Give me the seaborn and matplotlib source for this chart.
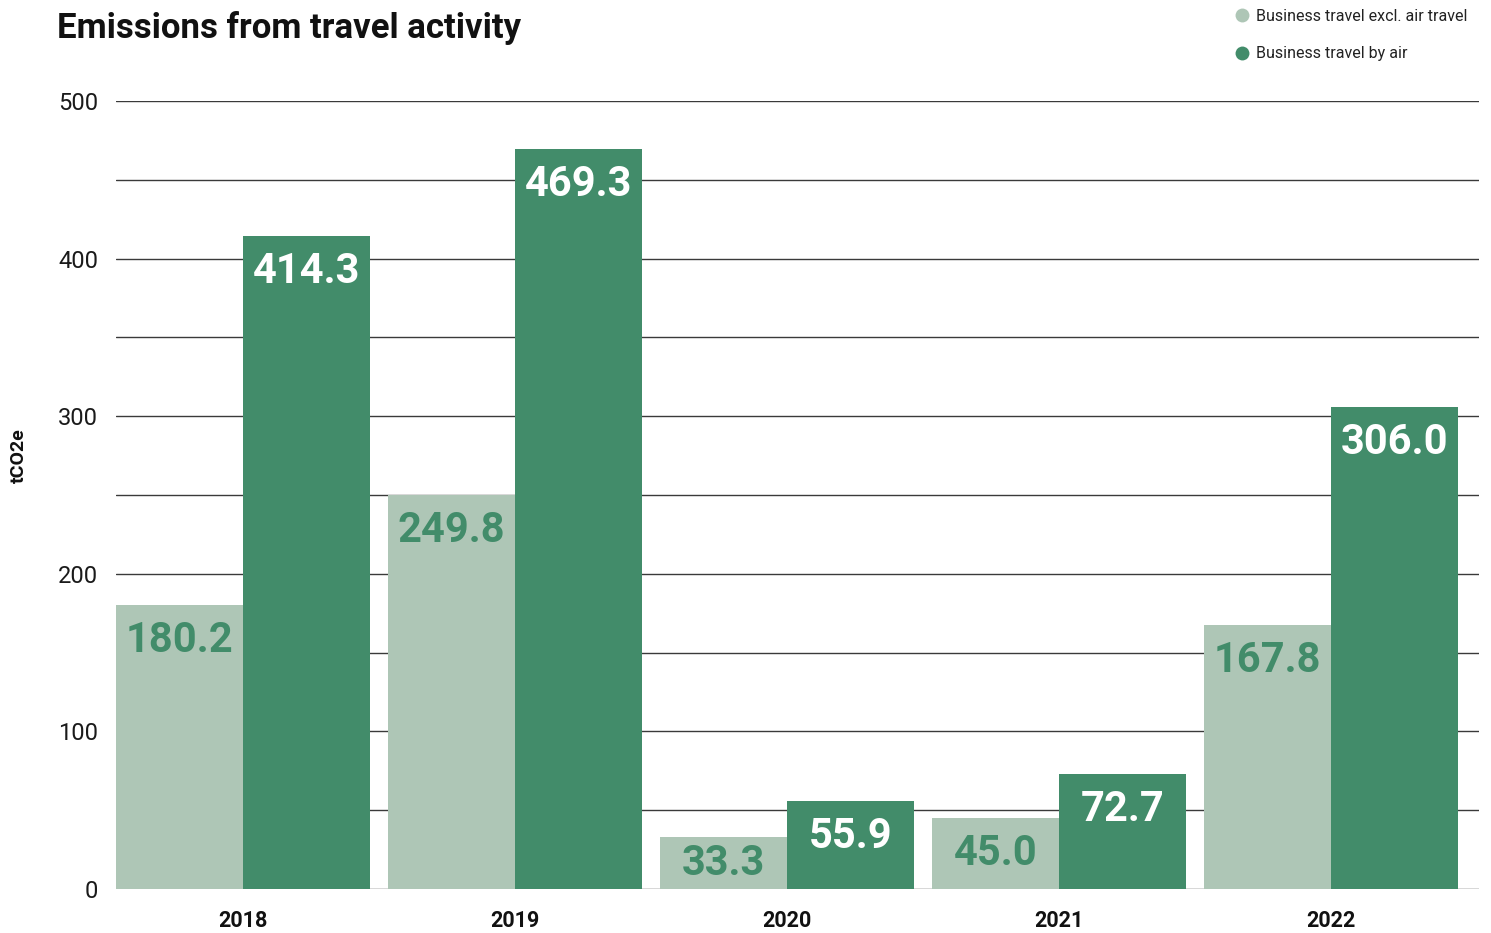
import matplotlib
matplotlib.use("Agg")
import matplotlib.pyplot as plt
import seaborn as sns
import pandas as pd
from matplotlib.lines import Line2D
import matplotlib.transforms as mtransforms

years = ["2018", "2019", "2020", "2021", "2022"]
series_names = ["Business travel excl. air travel", "Business travel by air"]
excl_air = [180.2, 249.8, 33.3, 45.0, 167.8]
by_air = [414.3, 469.3, 55.9, 72.7, 306.0]
y_ticks = [0, 100, 200, 300, 400, 500]

light_green = "#AEC6B6"
dark_green = "#428C6A"

sns.set_theme(style="white")
plt.rcParams["font.family"] = ["Roboto", "DejaVu Sans"]

df = pd.DataFrame({
    "year": years * 2,
    "series": [series_names[0]] * len(years) + [series_names[1]] * len(years),
    "value": excl_air + by_air,
})

W, H = 1491, 933
fig = plt.figure(figsize=(W / 100, H / 100), dpi=100)
ax = fig.add_axes([116 / W, 1 - 889 / H, (1479 - 116) / W, (889 - 101) / H])

# horizontal grid every 50 units, drawn beneath the bars
for g in range(0, 501, 50):
    ax.axhline(g, color="#3a3a3a", lw=1.0, zorder=0)

sns.barplot(data=df, x="year", y="value", hue="series", order=years,
            hue_order=series_names, palette=[light_green, dark_green],
            width=0.934, gap=0, dodge=True, saturation=1, legend=False,
            edgecolor="none", linewidth=0, ax=ax, zorder=2)

ax.set_xlim(-0.467, 4.544)
ax.set_ylim(0, 500)
ax.set_yticks(y_ticks)
ax.set_yticklabels([str(t) for t in y_ticks], fontsize=17, color="#1a1a1a")
ax.tick_params(axis="y", length=0, pad=13)
ax.tick_params(axis="x", length=0, pad=15)
ax.set_xticks(range(len(years)))
ax.set_xticklabels(years, fontsize=15.5, fontweight="bold", color="#111111")
for s in ax.spines.values():
    s.set_visible(False)
ax.set_xlabel("")
ax.set_ylabel("tCO2e", fontsize=14, fontweight="bold", color="#111111")
ax.yaxis.set_label_coords(-88 / 1363, 0.55)

# value labels inside the top of each bar
label_size = 30
for patch_group, color in ((ax.patches[:len(years)], dark_green), (ax.patches[len(years):], "white")):
    for p in patch_group:
        h = p.get_height()
        cx = p.get_x() + p.get_width() / 2
        if h < 40:
            trans = mtransforms.offset_copy(ax.transData, fig=fig, x=0, y=5, units="dots")
            ax.text(cx, 0, f"{h:.1f}", ha="center", va="bottom", fontsize=label_size,
                    fontweight="bold", color=color, transform=trans, zorder=3)
        else:
            trans = mtransforms.offset_copy(ax.transData, fig=fig, x=0, y=-15, units="dots")
            ax.text(cx, h, f"{h:.1f}", ha="center", va="top", fontsize=label_size,
                    fontweight="bold", color=color, transform=trans, zorder=3)

fig.text(57 / W, 1 - 28 / H, "Emissions from travel activity", fontsize=25,
         fontweight="bold", color="#111111", ha="left", va="center")

handles = [Line2D([], [], marker="o", ls="none", markersize=10, color=c, markeredgewidth=0)
           for c in (light_green, dark_green)]
fig.legend(handles, series_names, loc="upper left", bbox_to_anchor=(1234 / W, 1 - 9 / H),
           frameon=False, fontsize=11.5, handletextpad=0.35, labelspacing=1.4,
           borderaxespad=0, borderpad=0, handlelength=1.0, labelcolor="#222222")

fig.savefig("out.png", dpi=100)
